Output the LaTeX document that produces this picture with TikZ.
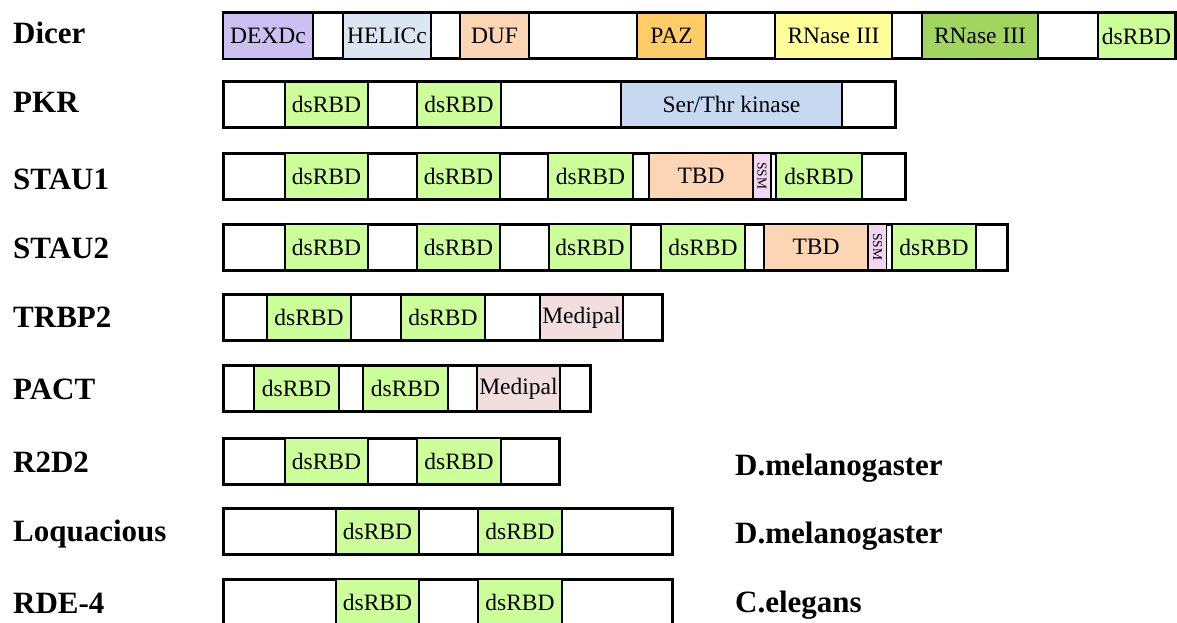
\documentclass[tikz,border=0pt]{standalone}
\usepackage{fontspec}
\setmainfont{Liberation Serif}
\definecolor{dexdc}{RGB}{204,192,242}
\definecolor{helicc}{RGB}{220,230,242}
\definecolor{duf}{RGB}{252,213,181}
\definecolor{paz}{RGB}{255,204,102}
\definecolor{rnaseA}{RGB}{255,255,153}
\definecolor{rnaseB}{RGB}{160,214,96}
\definecolor{dsrbd}{RGB}{204,255,153}
\definecolor{kinase}{RGB}{198,217,241}
\definecolor{tbd}{RGB}{252,213,181}
\definecolor{ssm}{RGB}{242,214,242}
\definecolor{medipal}{RGB}{242,222,222}
\begin{document}
\begin{tikzpicture}[x=1pt,y=-1pt,
		bar/.style={draw,fill=white,line width=3pt},
		dom/.style={draw,line width=2.5pt,inner sep=0pt,minimum height=46pt,font=\fontsize{23.5}{24}\selectfont},
		ssmdom/.style={dom,fill=ssm,line width=1.5pt,minimum width=18pt,font=\fontsize{13.5}{14}\selectfont},
		prot/.style={inner sep=0pt,anchor=base west,font=\fontsize{31}{32}\selectfont\bfseries}]
		\useasboundingbox[fill=white](0,0) rectangle (1177,623);
		\node[prot](Dicer) at (13,44){Dicer};
		\draw[bar](223,13) rectangle (1175,59);
		\foreach \a/\b/\c/\t [count=\i] in {223/313/dexdc/DEXDc,343/431/helicc/HELICc,460/529/duf/DUF,637/706/paz/PAZ,775/892/rnaseA/RNase III,922/1038/rnaseB/RNase III,1098/1175/dsrbd/dsRBD}
			\node[dom,fill=\c,minimum width={(\b-\a)*1pt}](dicer\i) at ({(\a+\b)/2},36){\t};
		\node[prot](PKR) at (13,113){PKR};
		\draw[bar](223,81.5) rectangle (895,127.5);
		\foreach \a/\b [count=\i] in {285/368,417/501}
			\node[dom,fill=dsrbd,minimum width={(\b-\a)*1pt}](pkr\i) at ({(\a+\b)/2},104.5){dsRBD};
		\node[dom,fill=kinase,minimum width=221pt](pkrkin) at (731.5,104.5){Ser/Thr kinase};
		\node[prot](STAU1) at (13,189){STAU1};
		\draw[bar](223,153) rectangle (905,199);
		\foreach \a/\b/\c/\t [count=\i] in {285/368/dsrbd/dsRBD,417/500/dsrbd/dsRBD,548/633/dsrbd/dsRBD,649/753/tbd/TBD,776/862/dsrbd/dsRBD}
			\node[dom,fill=\c,minimum width={(\b-\a)*1pt}](staua\i) at ({(\a+\b)/2},176){\t};
		\node[ssmdom](stauassm) at (762,176){\rotatebox{-90}{SSM}};
		\node[prot](STAU2) at (13,258){STAU2};
		\draw[bar](223,224) rectangle (1007,270);
		\foreach \a/\b/\c/\t [count=\i] in {285/368/dsrbd/dsRBD,417/500/dsrbd/dsRBD,549/631/dsrbd/dsRBD,661/745/dsrbd/dsRBD,764/868/tbd/TBD,892/976/dsrbd/dsRBD}
			\node[dom,fill=\c,minimum width={(\b-\a)*1pt}](staub\i) at ({(\a+\b)/2},247){\t};
		\node[ssmdom](staubssm) at (877.5,247){\rotatebox{-90}{SSM}};
		\node[prot](TRBP2) at (13,327){TRBP2};
		\draw[bar](223,294.5) rectangle (662,340.5);
		\foreach \a/\b/\c/\t [count=\i] in {267/351/dsrbd/dsRBD,401/485/dsrbd/dsRBD,540/623/medipal/Medipal}
			\node[dom,fill=\c,minimum width={(\b-\a)*1pt}](trbp\i) at ({(\a+\b)/2},317.5){\t};
		\node[prot](PACT) at (13,399){PACT};
		\draw[bar](223,365.5) rectangle (590,411.5);
		\foreach \a/\b/\c/\t [count=\i] in {254/339/dsrbd/dsRBD,363/448/dsrbd/dsRBD,477/560/medipal/Medipal}
			\node[dom,fill=\c,minimum width={(\b-\a)*1pt}](pact\i) at ({(\a+\b)/2},388.5){\t};
		\node[prot](R2D2) at (13,472){R2D2};
		\draw[bar](223,438) rectangle (559,484);
		\foreach \a/\b [count=\i] in {285/368,417/501}
			\node[dom,fill=dsrbd,minimum width={(\b-\a)*1pt}](rtwo\i) at ({(\a+\b)/2},461){dsRBD};
		\node[prot](dmelA) at (735,475){D.melanogaster};
		\node[prot](Loqs) at (13,541){Loquacious};
		\draw[bar](223,508.5) rectangle (672,554.5);
		\foreach \a/\b [count=\i] in {336/419,478/562}
			\node[dom,fill=dsrbd,minimum width={(\b-\a)*1pt}](loqs\i) at ({(\a+\b)/2},531.5){dsRBD};
		\node[prot](dmelB) at (735,543){D.melanogaster};
		\node[prot](RDE) at (13,613){RDE-4};
		\draw[bar](223,579) rectangle (672,625);
		\foreach \a/\b [count=\i] in {336/419,478/562}
			\node[dom,fill=dsrbd,minimum width={(\b-\a)*1pt}](rde\i) at ({(\a+\b)/2},602){dsRBD};
		\node[prot](cel) at (735,612){C.elegans};
	\end{tikzpicture}
\end{document}
